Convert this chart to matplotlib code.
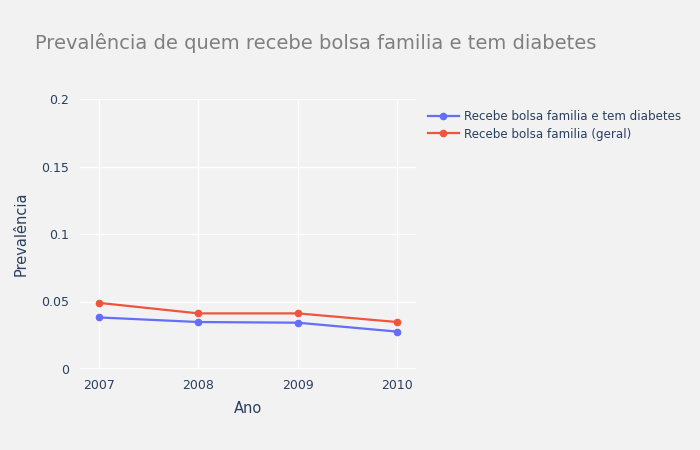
import matplotlib.pyplot as plt
from matplotlib.ticker import FuncFormatter

anos = [2007, 2008, 2009, 2010]
bolsa_diabetes = [0.0382, 0.0348, 0.0343, 0.0277]
bolsa_geral = [0.0490, 0.0412, 0.0412, 0.0348]
y_ticks = [0, 0.05, 0.1, 0.15, 0.2]

bg = '#f2f2f2'
txt = '#2a3f5f'

fig = plt.figure(figsize=(7, 4.5), dpi=100, facecolor=bg)
ax = fig.add_axes([80 / 700, 81 / 450, 336 / 700, 270 / 450])
ax.set_facecolor(bg)

ax.plot(anos, bolsa_diabetes, color='#636efa', lw=1.6, marker='o', ms=4.5,
        label='Recebe bolsa familia e tem diabetes', zorder=3)
ax.plot(anos, bolsa_geral, color='#EF553B', lw=1.6, marker='o', ms=4.5,
        label='Recebe bolsa familia (geral)', zorder=3)

ax.set_xlim(2007 - 0.19, 2010 + 0.19)
ax.set_ylim(0, 0.2)
ax.set_xticks(anos)
ax.set_yticks(y_ticks)
ax.yaxis.set_major_formatter(FuncFormatter(lambda v, p: '%g' % v))
ax.grid(True, color='white', lw=1)
ax.axhline(0, color='white', lw=2, zorder=2)
for s in ax.spines.values():
    s.set_visible(False)
ax.tick_params(axis='x', length=0, labelsize=9, labelcolor=txt, pad=7)
ax.tick_params(axis='y', length=0, labelsize=9, labelcolor=txt, pad=8)
ax.set_axisbelow(True)

ax.set_xlabel('Ano', fontsize=10.5, color=txt, labelpad=7)
ax.set_ylabel('Prevalência', fontsize=10.5, color=txt, labelpad=9)

fig.text(35 / 700, 1 - 43 / 450, 'Prevalência de quem recebe bolsa familia e tem diabetes',
         fontsize=14, color='#7f7f7f', va='center', ha='left')

ax.legend(loc='upper left', bbox_to_anchor=(423 / 700, 1 - 105 / 450),
          bbox_transform=fig.transFigure, frameon=False, fontsize=8.6,
          labelcolor=txt, handlelength=2.6, handletextpad=0.45, labelspacing=0.4,
          borderaxespad=0)

fig.savefig('out.png', dpi=100, facecolor=bg)
